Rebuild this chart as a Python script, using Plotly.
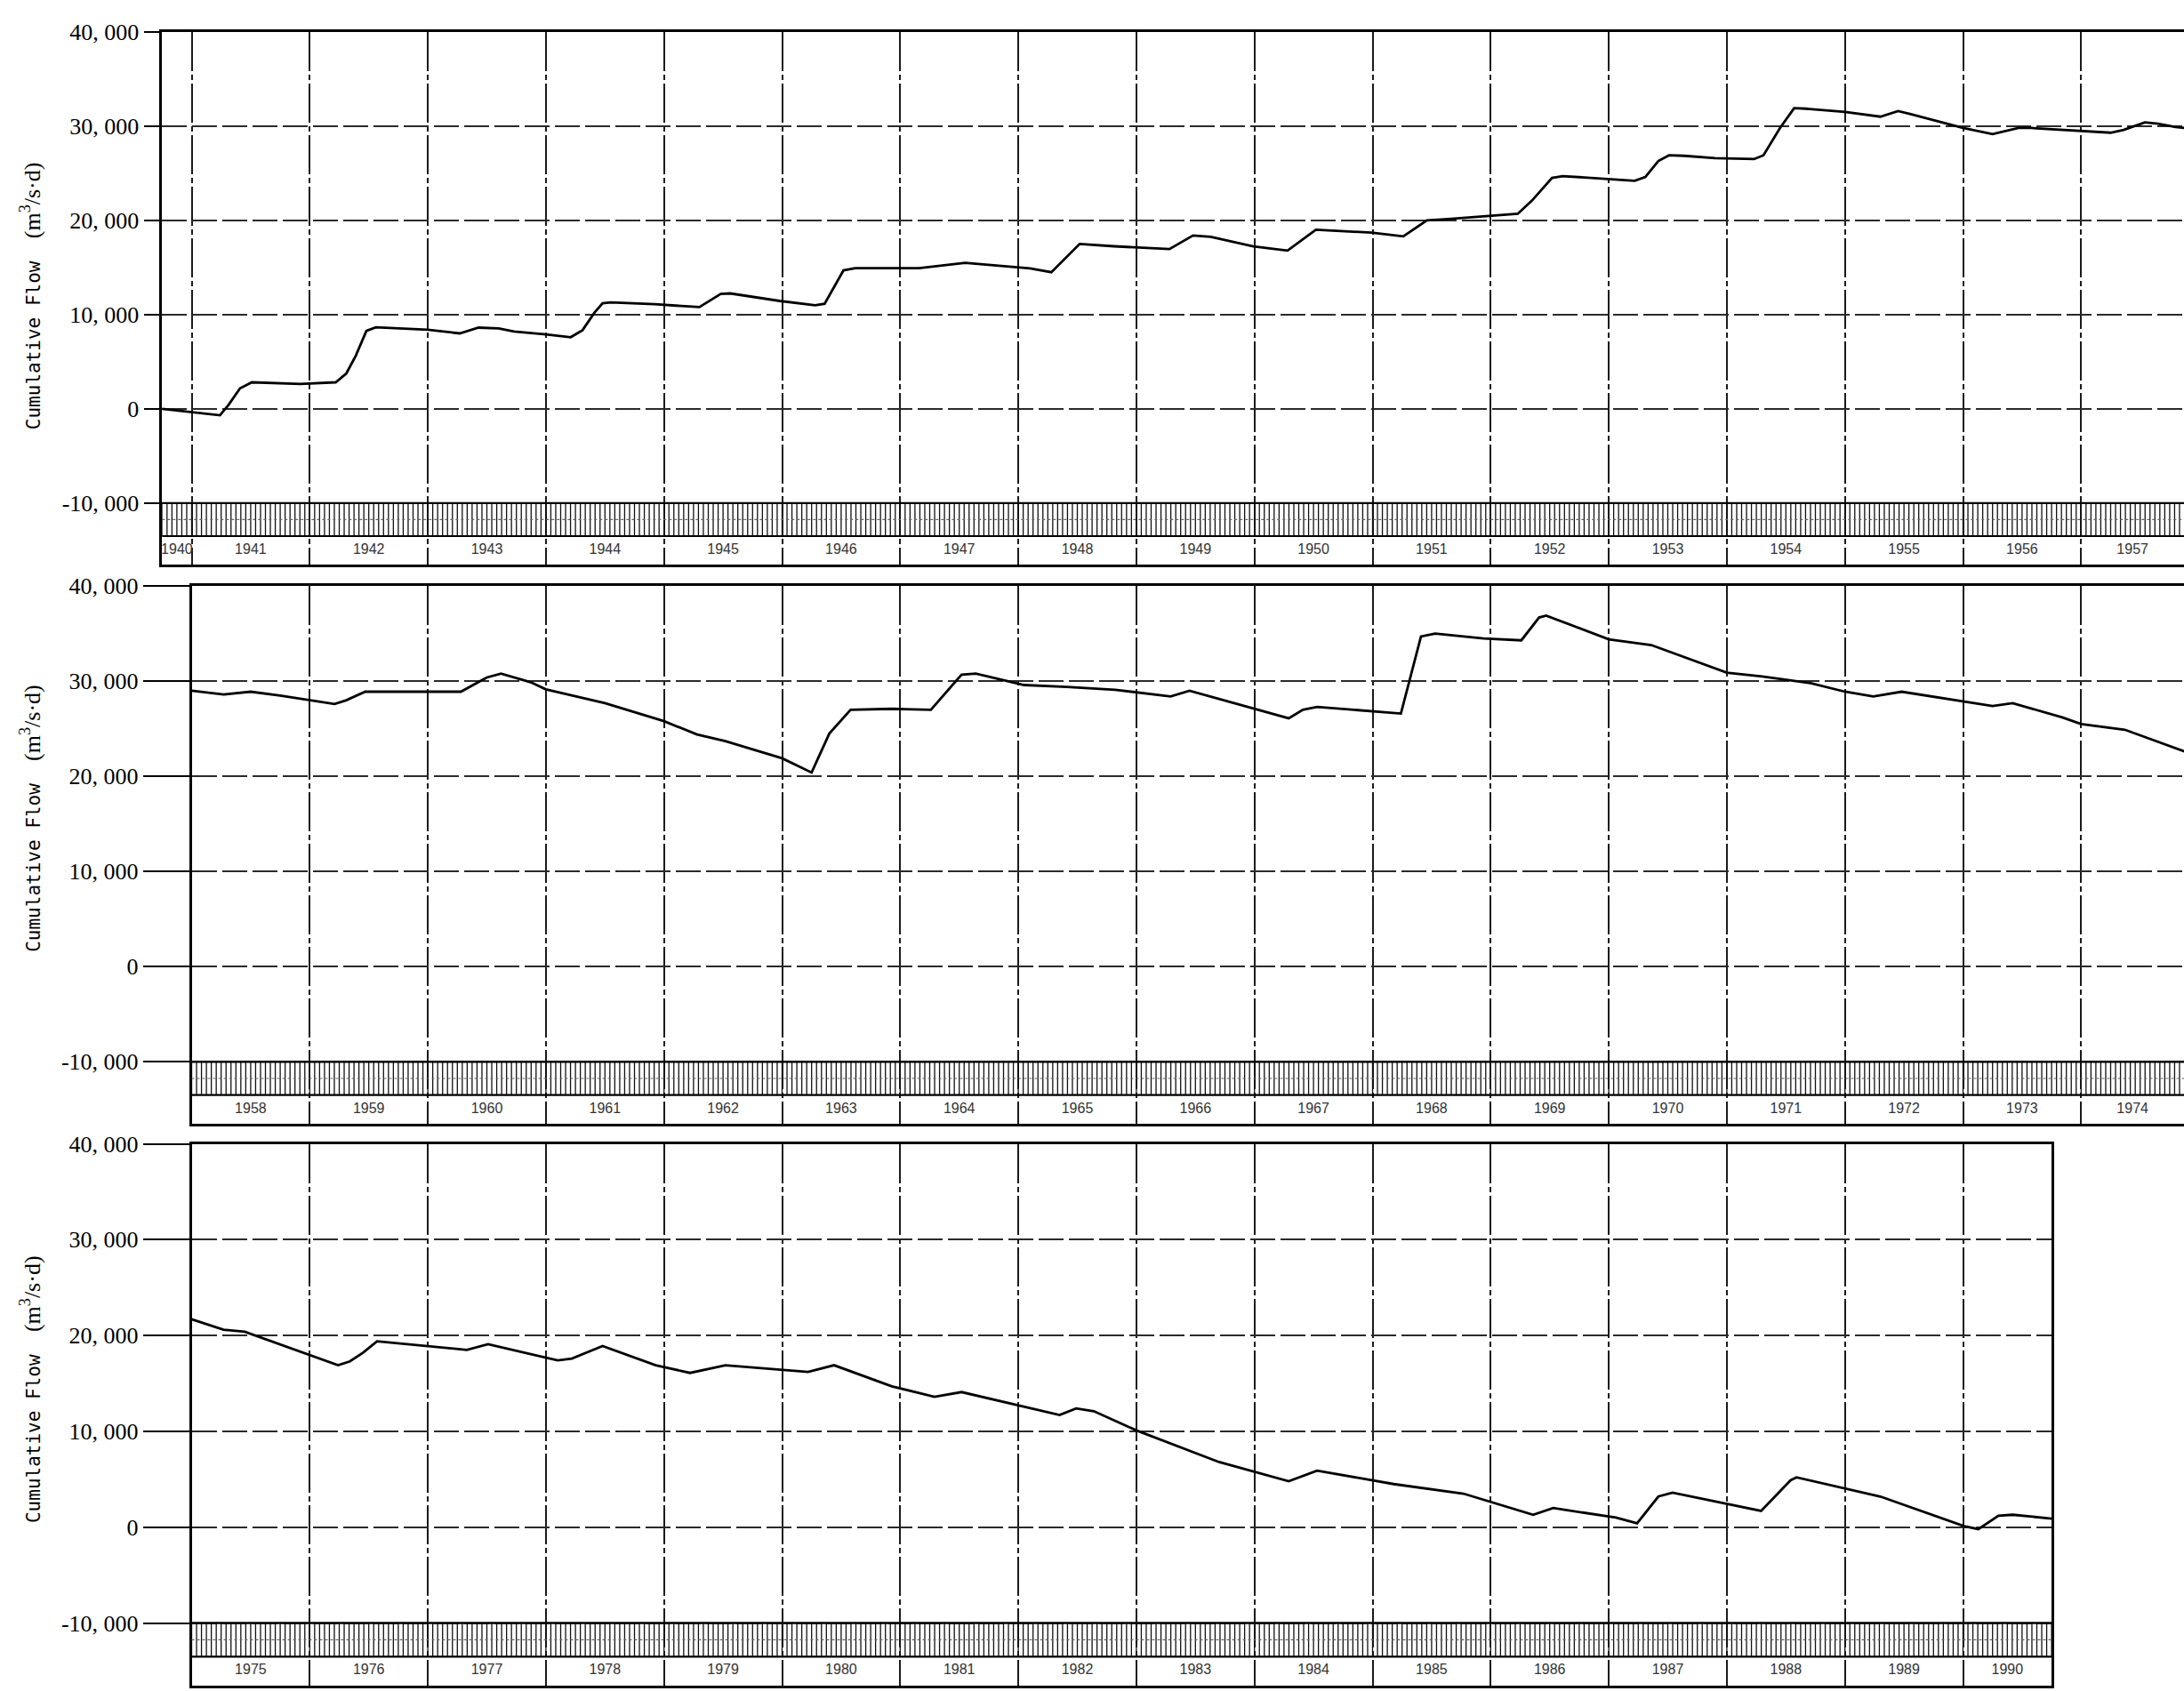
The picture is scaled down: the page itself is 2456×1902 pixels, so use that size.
import math
import plotly.graph_objects as go

# Cumulative flow series, one per panel (decimal year, m3/s·d)
P1_YEAR = [1940.75, 1941.0, 1941.24, 1941.31, 1941.41, 1941.51, 1941.72, 1941.92, 1942.22, 1942.31,
           1942.39, 1942.48, 1942.56, 1942.73, 1943.0, 1943.27, 1943.43, 1943.6, 1943.73, 1944.0,
           1944.21, 1944.31, 1944.41, 1944.48, 1944.55, 1944.92, 1945.3, 1945.48, 1945.56, 1945.98,
           1946.28, 1946.36, 1946.52, 1946.62, 1947.16, 1947.55, 1948.1, 1948.28, 1948.52, 1948.81,
           1949.28, 1949.48, 1949.63, 1949.99, 1950.28, 1950.52, 1950.99, 1951.26, 1951.46, 1951.64,
           1952.23, 1952.35, 1952.52, 1952.61, 1953.0, 1953.22, 1953.31, 1953.42, 1953.51, 1953.64,
           1953.9, 1954.23, 1954.31, 1954.45, 1954.57, 1954.67, 1955.0, 1955.3, 1955.45, 1955.55,
           1955.85, 1956.0, 1956.25, 1956.47, 1956.58, 1957.0, 1957.25, 1957.36, 1957.54, 1957.65,
           1957.8, 1957.95]
P1_FLOW = [0, -380, -680, 380, 2180, 2820, 2750, 2650, 2820, 3760,
           5640, 8280, 8650, 8540, 8390, 8010, 8620, 8540, 8200, 7900,
           7600, 8350, 10190, 11210, 11290, 11100, 10800, 12200, 12250, 11450,
           11000, 11150, 14700, 14930, 14930, 15500, 14900, 14500, 17500, 17250,
           16950, 18400, 18250, 17250, 16800, 19000, 18700, 18300, 20000, 20150,
           20700, 22100, 24500, 24700, 24400, 24200, 24600, 26300, 26900, 26850,
           26600, 26500, 26900, 29800, 31900, 31850, 31500, 31000, 31600, 31300,
           30300, 29800, 29150, 29800, 29800, 29450, 29300, 29600, 30400, 30250,
           29900, 29700]

P2_YEAR = [1958.0, 1958.27, 1958.5, 1958.75, 1959.21, 1959.31, 1959.47, 1960.28, 1960.5, 1960.62,
           1960.87, 1961.0, 1961.5, 1962.0, 1962.28, 1962.52, 1963.0, 1963.25, 1963.4, 1963.58,
           1963.93, 1964.26, 1964.52, 1964.64, 1965.05, 1965.41, 1965.82, 1966.29, 1966.45, 1967.29,
           1967.41, 1967.53, 1968.24, 1968.41, 1968.53, 1968.94, 1969.26, 1969.41, 1969.47, 1970.0,
           1970.36, 1971.0, 1971.3, 1971.71, 1972.0, 1972.24, 1972.48, 1973.01, 1973.25, 1973.42,
           1973.84, 1974.0, 1974.37, 1974.9]
P2_FLOW = [29000, 28600, 28900, 28500, 27600, 28000, 28900, 28900, 30400, 30800,
           29900, 29150, 27700, 25800, 24400, 23700, 21900, 20400, 24500, 27000,
           27100, 27000, 30700, 30800, 29600, 29400, 29100, 28400, 29000, 26100,
           27000, 27300, 26600, 34700, 35000, 34500, 34300, 36700, 36900, 34400,
           33800, 30900, 30500, 29800, 28900, 28400, 28900, 27900, 27400, 27700,
           26200, 25500, 24900, 22500]

P3_YEAR = [1975.0, 1975.27, 1975.45, 1976.0, 1976.24, 1976.34, 1976.45, 1976.57, 1976.92, 1977.33,
           1977.51, 1978.1, 1978.22, 1978.48, 1978.93, 1979.22, 1979.52, 1980.22, 1980.44, 1980.93,
           1981.29, 1981.52, 1982.35, 1982.49, 1982.64, 1983.0, 1983.7, 1984.29, 1984.53, 1985.18,
           1985.77, 1986.36, 1986.53, 1987.06, 1987.24, 1987.42, 1987.54, 1988.29, 1988.54, 1988.59,
           1989.3, 1990.01, 1990.13, 1990.3, 1990.42, 1990.75]
P3_FLOW = [21700, 20600, 20400, 18000, 16900, 17300, 18200, 19400, 19000, 18500,
           19100, 17400, 17600, 18900, 16900, 16100, 16900, 16200, 16900, 14700,
           13600, 14100, 11700, 12400, 12100, 10100, 6800, 4800, 5900, 4500,
           3500, 1300, 2000, 1000, 400, 3200, 3600, 1700, 4900, 5200,
           3200, 100, -200, 1200, 1300, 900]

Y_TICKS = [-10000, 0, 10000, 20000, 30000, 40000]
Y_TICK_TEXT = ["-10, 000", "0", "10, 000", "20, 000", "30, 000", "40, 000"]
AXIS_TITLE = ("Cumulative Flow  <span style='font-family:Liberation Serif;font-size:26px'>"
              "(m<sup>3</sup>/s·d)</span>")

# Page geometry (pixels)
W, H = 2456, 1902
YEAR_PX = 132.8          # width of one year on the time axis
JAN_PX = 215.5           # column of the first full January of every panel
LABEL_RIGHT_PX = 164     # right edge of the flow tick labels
Y_TOP = 40000
STRIP_TOP, STRIP_BOT, Y_MIN = -10000, -13500, -16500   # month strip + year-label row
STRIP_PER_YEAR = 24

panels = [
    dict(year=P1_YEAR, flow=P1_FLOW, start=1940.75, first_jan=1941, end=1958.0,
         top_px=22.0, px10k=106.8, title_at=12000),
    dict(year=P2_YEAR, flow=P2_FLOW, start=1958.0, first_jan=1958, end=1975.0,
         top_px=650.0, px10k=107.8, title_at=15600),
    dict(year=P3_YEAR, flow=P3_FLOW, start=1975.0, first_jan=1975, end=1990.75,
         top_px=1282.0, px10k=108.6, title_at=14400),
]

fig = go.Figure()
shapes, annotations = [], []
layout = {}

for i, p in enumerate(panels, 1):
    xa = "x" if i == 1 else f"x{i}"
    ya = "y" if i == 1 else f"y{i}"
    left_px = JAN_PX - (p["first_jan"] - p["start"]) * YEAR_PX
    end = min(p["end"], p["first_jan"] + (W - JAN_PX) / YEAR_PX)
    right_px = JAN_PX + (end - p["first_jan"]) * YEAR_PX
    bottom_px = p["top_px"] + (Y_TOP - Y_MIN) / 10000 * p["px10k"]
    cut_off = end < p["end"]

    layout[f"xaxis{'' if i == 1 else i}"] = dict(
        domain=[left_px / W, min(right_px / W, 1.0)],
        range=[p["start"], end], anchor=ya,
        tickvals=list(range(p["first_jan"], math.floor(end) + 1)),
        showticklabels=False, ticks="",
        showgrid=True, gridcolor="#1a1a1a", gridwidth=2, griddash="44px,4px,6px,4px",
        showline=True, mirror=True, linecolor="black", linewidth=2.5,
        zeroline=False, fixedrange=True,
    )
    layout[f"yaxis{'' if i == 1 else i}"] = dict(
        domain=[max(0.0, 1 - bottom_px / H), 1 - p["top_px"] / H],
        range=[Y_MIN, Y_TOP], anchor=xa,
        tickvals=Y_TICKS, ticktext=Y_TICK_TEXT,
        ticks="outside", ticklen=max(4, round(left_px - LABEL_RIGHT_PX)),
        tickwidth=2, tickcolor="black",
        tickfont=dict(family="Liberation Serif", size=26, color="black"),
        showgrid=True, gridcolor="#2a2a2a", gridwidth=1.6, griddash="28px,6px",
        showline=True, mirror=not cut_off, linecolor="black", linewidth=2.5,
        zeroline=False, fixedrange=True,
    )

    # flow curve
    fig.add_trace(go.Scatter(
        x=p["year"], y=p["flow"], xaxis=xa, yaxis=ya, mode="lines",
        line=dict(color="black", width=2.8), hoverinfo="skip", showlegend=False,
    ))

    # month strip: tick marks under the -10,000 line
    tx, ty = [], []
    for n in range(math.ceil(p["start"] * STRIP_PER_YEAR), math.floor(end * STRIP_PER_YEAR) + 1):
        t = n / STRIP_PER_YEAR
        tx += [t, t, None]
        ty += [STRIP_TOP, STRIP_BOT, None]
    fig.add_trace(go.Scatter(
        x=tx, y=ty, xaxis=xa, yaxis=ya, mode="lines",
        line=dict(color="#111", width=1.3), hoverinfo="skip", showlegend=False,
    ))

    # year labels centred in the visible part of each year
    lx, lt = [], []
    for yr in range(math.floor(p["start"]), math.ceil(end)):
        lo, hi = max(yr, p["start"]), min(yr + 1, end)
        lx.append((lo + hi) / 2)
        lt.append(str(yr))
    fig.add_trace(go.Scatter(
        x=lx, y=[(STRIP_BOT + Y_MIN) / 2] * len(lx), xaxis=xa, yaxis=ya,
        mode="text", text=lt, cliponaxis=True,
        textfont=dict(family="Liberation Sans Narrow, Liberation Sans", size=16, color="#333"),
        hoverinfo="skip", showlegend=False,
    ))

    for yv, dash, wdt, col in [(STRIP_TOP, "solid", 2.4, "black"),
                               (STRIP_BOT, "solid", 2.2, "black"),
                               ((STRIP_TOP + STRIP_BOT) / 2, "dot", 1.2, "#666")]:
        shapes.append(dict(type="line", xref=f"{xa} domain", x0=0, x1=1,
                           yref=ya, y0=yv, y1=yv, line=dict(color=col, width=wdt, dash=dash)))

    annotations.append(dict(
        text=AXIS_TITLE, xref="paper", x=34.5 / W, xanchor="center",
        yref=ya, y=p["title_at"], yanchor="middle", textangle=-90, showarrow=False,
        font=dict(family="DejaVu Sans Mono", size=21, color="black"),
    ))

fig.update_layout(
    width=W, height=H, autosize=False,
    margin=dict(l=0, r=0, t=0, b=0, pad=0),
    paper_bgcolor="white", plot_bgcolor="white",
    showlegend=False, shapes=shapes, annotations=annotations,
    **layout,
)

fig.write_html("out.html", post_script="document.body.style.margin='0';")
